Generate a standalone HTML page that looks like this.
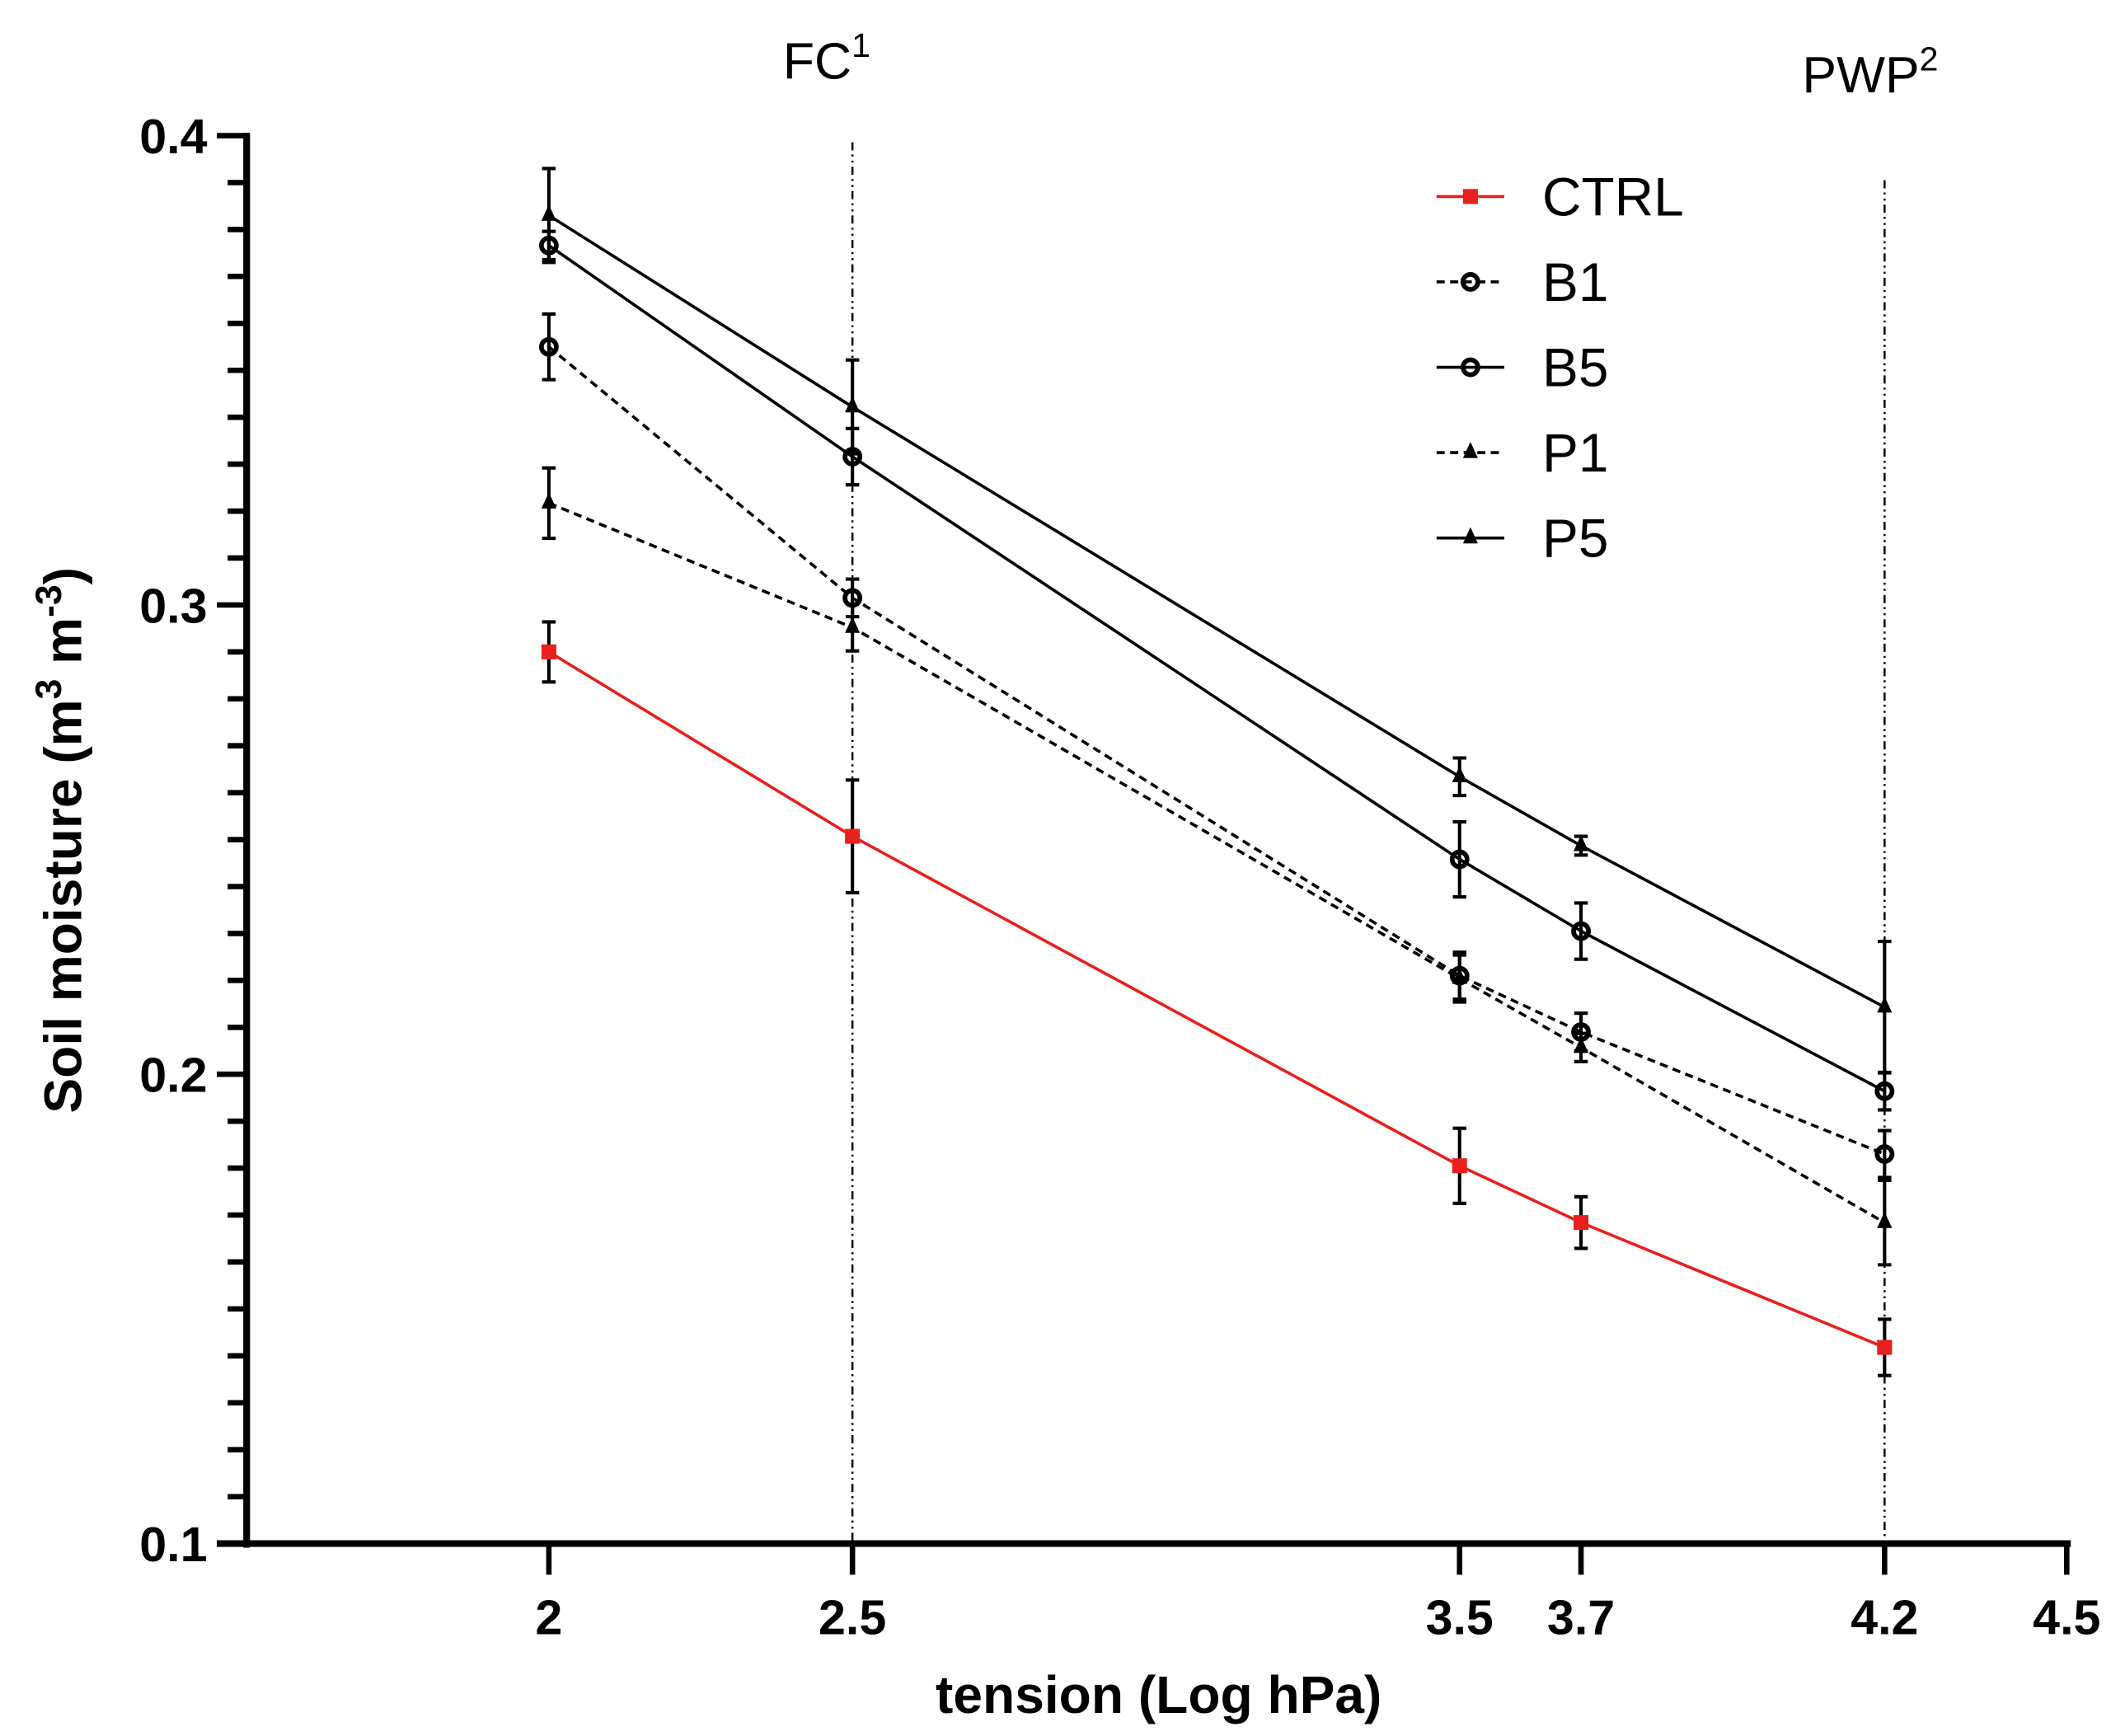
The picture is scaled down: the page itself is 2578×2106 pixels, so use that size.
<!DOCTYPE html>
<html><head><meta charset="utf-8"><style>
html,body{margin:0;padding:0;background:#fff;}
svg{display:block;}
text{font-family:"Liberation Sans",sans-serif;}
</style></head><body>
<svg id="chart" width="2578" height="2106" viewBox="0 0 1568 1281" preserveAspectRatio="none" xmlns="http://www.w3.org/2000/svg">
<g id="grid"></g><g id="axes"></g><g id="series"></g><g id="legend"></g>
</svg>
<script>
const tensions = [2, 2.5, 3.5, 3.7, 4.2];
const xTicks = [2, 2.5, 3.5, 3.7, 4.2, 4.5];
const xTickLabels = ["2", "2.5", "3.5", "3.7", "4.2", "4.5"];
const yTicks = [0.1, 0.2, 0.3, 0.4];
const yTickLabels = ["0.1", "0.2", "0.3", "0.4"];
const seriesNames = ["CTRL", "B1", "B5", "P1", "P5"];
const ctrlValues = [0.290, 0.2507, 0.1805, 0.1684, 0.1418];
const ctrlErrors = [0.0064, 0.012, 0.008, 0.0055, 0.006];
const b1Values = [0.355, 0.3015, 0.221, 0.209, 0.183];
const b1Errors = [0.007, 0.004, 0.005, 0.004, 0.005];
const b5Values = [0.3766, 0.3316, 0.2458, 0.2305, 0.1964];
const b5Errors = [0.003, 0.006, 0.008, 0.006, 0.004];
const p1Values = [0.3217, 0.2952, 0.2204, 0.2057, 0.1684];
const p1Errors = [0.0075, 0.005, 0.005, 0.003, 0.009];
const p5Values = [0.383, 0.3422, 0.2634, 0.2487, 0.2143];
const p5Errors = [0.010, 0.010, 0.004, 0.002, 0.014];

const NS = "http://www.w3.org/2000/svg";
const X0 = 405, XU = 448;
const Y0 = 1139, YU = 3463;
function xs(v){ return X0 + (v - 2) * XU; }
function ys(v){ return Y0 - (v - 0.1) * YU; }
function mk(tag, attrs, parent){
  const e = document.createElementNS(NS, tag);
  for (const k in attrs) e.setAttribute(k, attrs[k]);
  parent.appendChild(e);
  return e;
}
const grid = document.getElementById('grid');
const axes = document.getElementById('axes');
const ser = document.getElementById('series');
const leg = document.getElementById('legend');

let fc = mk('line', {x1: xs(2.5), x2: xs(2.5), y1: 105, y2: Y0, stroke: '#000', 'stroke-width': 1.5, 'stroke-dasharray': '6 3 1.5 3 1.5 3'}, grid);


let pwp = mk('line', {x1: xs(4.2), x2: xs(4.2), y1: 133, y2: Y0, stroke: '#000', 'stroke-width': 1.5, 'stroke-dasharray': '6 3 1.5 3 1.5 3'}, grid);


let fcl = mk('text', {x: 610, y: 58, 'font-size': 38, 'text-anchor': 'middle'}, grid);
fcl.innerHTML = 'FC<tspan font-size="25" dy="-16">1</tspan>';


let pl = mk('text', {x: 1380, y: 68, 'font-size': 38, 'text-anchor': 'middle'}, grid);
pl.innerHTML = 'PWP<tspan font-size="25" dy="-16">2</tspan>';



let ya = mk('line', {x1: 182, x2: 182, y1: 98, y2: 1142, stroke: '#000', 'stroke-width': 5}, axes);


let xa = mk('line', {x1: 160, x2: 1528, y1: 1139, y2: 1139, stroke: '#000', 'stroke-width': 5}, axes);


for (let i = 0; i <= 30; i++) {
  const v = 0.1 + i * 0.01;
  const major = i % 10 === 0;
  let t = mk('line', {x1: major ? 160 : 168, x2: 182, y1: ys(v), y2: ys(v), stroke: '#000', 'stroke-width': 4}, axes);
  
  
}
yTicks.forEach((v, i) => {
  let t = mk('text', {x: 153, y: ys(v) + 13, 'font-size': 36, 'font-weight': 'bold', 'text-anchor': 'end'}, axes);
  t.textContent = yTickLabels[i];
  
  
});
xTicks.forEach((v, i) => {
  let t = mk('line', {x1: xs(v), x2: xs(v), y1: 1139, y2: 1162, stroke: '#000', 'stroke-width': 4}, axes);
  
  
  let l = mk('text', {x: xs(v), y: 1206, 'font-size': 36, 'font-weight': 'bold', 'text-anchor': 'middle'}, axes);
  l.textContent = xTickLabels[i];
  
  
});
let xt = mk('text', {x: 855, y: 1264, 'font-size': 39, 'font-weight': 'bold', 'text-anchor': 'middle'}, axes);
xt.textContent = 'tension (Log hPa)';


let yt = mk('text', {x: 0, y: 0, 'font-size': 39, 'font-weight': 'bold', 'text-anchor': 'middle', transform: 'translate(60,620) rotate(-90)'}, axes);
yt.innerHTML = 'Soil moisture (m<tspan font-size="27" dy="-15">3</tspan><tspan dy="15"> m</tspan><tspan font-size="27" dy="-15">-3</tspan><tspan dy="15">)</tspan>';



function marker(kind, x, y, color, parent){
  let m;
  if (kind === 'square') m = mk('rect', {x: x - 5.5, y: y - 5.5, width: 11, height: 11, fill: color}, parent);
  else if (kind === 'circle') m = mk('circle', {cx: x, cy: y, r: 5.5, fill: 'none', stroke: color, 'stroke-width': 3.5}, parent);
  else m = mk('polygon', {points: `${x},${y-8} ${x-5.5},${y+4} ${x+5.5},${y+4}`, fill: color}, parent);
  return m;
}
const defs = [
  {name: 'ctrl', vals: ctrlValues, errs: ctrlErrors, color: '#e8201e', dash: null, mk: 'square'},
  {name: 'b1', vals: b1Values, errs: b1Errors, color: '#000', dash: '6 4', mk: 'circle'},
  {name: 'b5', vals: b5Values, errs: b5Errors, color: '#000', dash: null, mk: 'circle'},
  {name: 'p1', vals: p1Values, errs: p1Errors, color: '#000', dash: '6 4', mk: 'triangle'},
  {name: 'p5', vals: p5Values, errs: p5Errors, color: '#000', dash: null, mk: 'triangle'}
];
defs.forEach(d => {
  const g = mk('g', {}, ser);
  
  
  const pts = d.vals.map((v, i) => xs(tensions[i]) + ',' + ys(v)).join(' ');
  const a = {points: pts, fill: 'none', stroke: d.color, 'stroke-width': 2.2};
  if (d.dash) a['stroke-dasharray'] = d.dash;
  let line = mk('polyline', a, g);
  
  
  d.vals.forEach((v, i) => {
    const x = xs(tensions[i]);
    const y1 = ys(v + d.errs[i]), y2 = ys(v - d.errs[i]);
    let eb = mk('path', {d: `M${x},${y1}V${y2}M${x-5},${y1}H${x+5}M${x-5},${y2}H${x+5}`, stroke: '#000', 'stroke-width': 2.5, fill: 'none'}, g);
    
    
    let m = marker(d.mk, x, ys(v), d.color, g);
    
    
  });
  const li = defs.indexOf(d);
  const ly = 145 + li * 63;
  const lg = mk('g', {}, leg);
  
  
  const la = {x1: 1060, x2: 1110, y1: ly, y2: ly, stroke: d.color, 'stroke-width': 2.2};
  if (d.dash) la['stroke-dasharray'] = '6 4';
  let ll = mk('line', la, lg);
  
  
  let lm = marker(d.mk, 1085, ly, d.color, lg);
  
  
  let lt = mk('text', {x: 1138, y: ly + 14, 'font-size': 40}, lg);
  lt.textContent = seriesNames[li];
  
  
});
</script>
</body></html>
